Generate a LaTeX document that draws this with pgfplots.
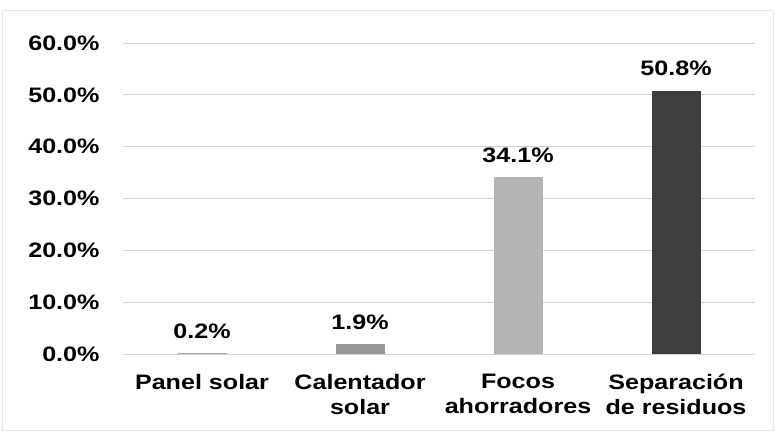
\documentclass[border=0pt]{standalone}
\usepackage{pgfplots}
\pgfplotsset{compat=1.18}
\usepackage{fontspec}
\setmainfont{Liberation Sans}[FakeStretch=1.2]
\definecolor{barA}{HTML}{A8A8A8}
\definecolor{barB}{HTML}{969696}
\definecolor{barC}{HTML}{B4B4B4}
\definecolor{barD}{HTML}{3E3E3E}
\definecolor{gridc}{HTML}{D2D2D2}
\begin{document}
\begin{tikzpicture}
\path[draw=gray!20, line width=0.8bp] (2bp,2bp) rectangle (773bp,422bp);
\path (0,0) rectangle (775bp,432bp);
\begin{axis}[
  at={(123bp,78bp)}, anchor=south west,
  scale only axis, width=632bp, height=311bp,
  xmin=-0.5, xmax=3.5, ymin=0, ymax=60,
  ybar, bar width=49bp, bar shift=0pt,
  xtick={0,1,2,3},
  xticklabels={Panel solar,{Calentador\\solar},{Focos\\ahorradores},{Separación\\de residuos}},
  ytick={0,10,20,30,40,50,60},
  yticklabels={0.0\%,10.0\%,20.0\%,30.0\%,40.0\%,50.0\%,60.0\%},
  major tick length=0pt,
  tick style={draw=none},
  axis line style={draw=none},
  ymajorgrids, grid style={gridc, line width=0.9bp},
  every tick label/.append style={font=\fontsize{21}{25}\selectfont\bfseries},
  xticklabel style={align=center, yshift=-17bp},
  yticklabel style={xshift=-20bp},
  nodes near coords={\pgfmathprintnumber[fixed,fixed zerofill,precision=1,assume math mode=true]{\pgfplotspointmeta}\%},
  every node near coord/.append style={font=\fontsize{21}{25}\selectfont\bfseries, black, yshift=11bp},
]
\addplot[draw=none, fill=barA] coordinates {(0,0.2)};
\addplot[draw=none, fill=barB] coordinates {(1,1.9)};
\addplot[draw=none, fill=barC] coordinates {(2,34.1)};
\addplot[draw=none, fill=barD] coordinates {(3,50.8)};
\end{axis}
\end{tikzpicture}
\end{document}
